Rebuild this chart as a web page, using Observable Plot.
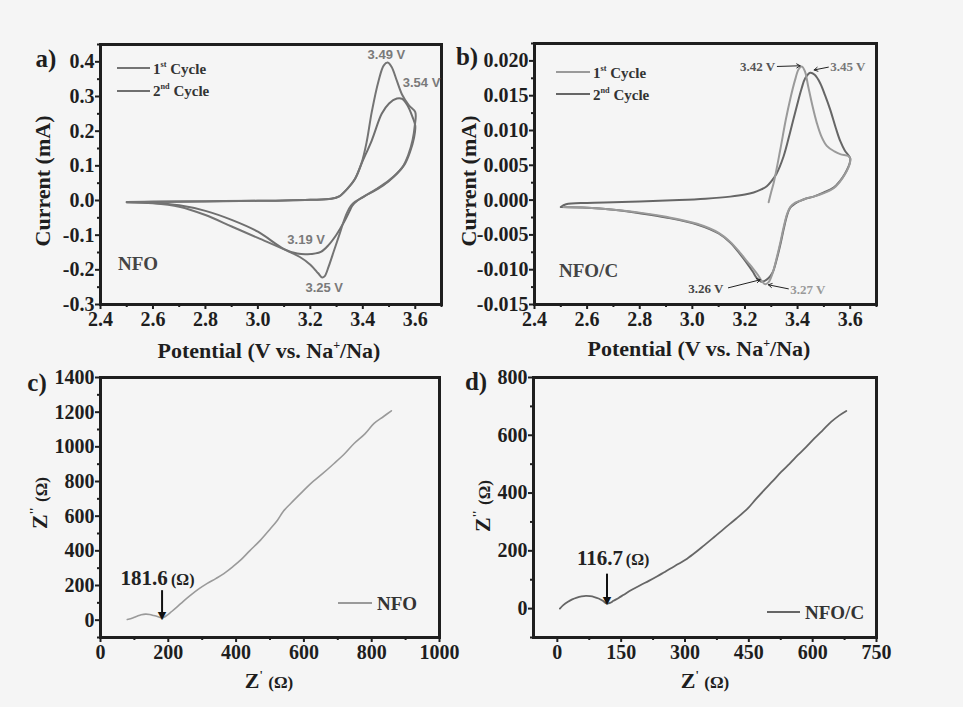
<!DOCTYPE html>
<html>
<head>
<meta charset="utf-8">
<script src="https://cdn.jsdelivr.net/npm/d3@7"></script>
<script src="https://cdn.jsdelivr.net/npm/@observablehq/plot@0.6"></script>
<style>
  body { margin: 0; background: #f5f5f5; }
  #fig { position: relative; width: 963px; height: 707px; background: #f5f5f5; overflow: hidden;
         font-family: "Liberation Serif", "Times New Roman", serif; font-weight: bold; color: #1e1e1e; }
  .abs { position: absolute; white-space: nowrap; line-height: 1; }
  .panel { position: absolute; }
  .leg { position: absolute; height: 0; }
  sup { font-size: 0.55em; vertical-align: 0.75em; line-height: 0; }
</style>
</head>
<body>
<div id="fig"></div>
<script>
// ---------------- DATA ----------------
// (a) NFO cyclic voltammetry, potential (V) vs current (mA)
const nfoCycle1 = [
  [2.5,-0.004],[2.6,-0.003],[2.8,-0.002],[3.0,-0.001],[3.1,0.0],[3.2,0.002],[3.28,0.005],
  [3.31,0.012],[3.34,0.033],[3.37,0.062],[3.396,0.11],[3.415,0.17],[3.434,0.255],[3.46,0.345],
  [3.48,0.39],[3.495,0.398],[3.51,0.385],[3.53,0.345],[3.55,0.305],[3.575,0.275],[3.6,0.255],
  [3.598,0.215],[3.59,0.175],[3.575,0.135],[3.55,0.095],[3.5,0.058],[3.45,0.032],[3.4,0.01],
  [3.37,-0.004],[3.355,-0.015],[3.34,-0.035],[3.325,-0.065],[3.31,-0.1],[3.29,-0.145],
  [3.27,-0.19],[3.255,-0.218],[3.245,-0.222],[3.23,-0.21],[3.2,-0.185],[3.16,-0.163],
  [3.12,-0.148],[3.0,-0.108],[2.9,-0.075],[2.8,-0.042],[2.7,-0.018],[2.6,-0.008],[2.5,-0.005]
];
const nfoCycle2 = [
  [2.5,-0.005],[2.6,-0.004],[2.8,-0.003],[3.0,-0.001],[3.1,0.0],[3.2,0.002],[3.28,0.005],
  [3.31,0.012],[3.34,0.033],[3.37,0.062],[3.396,0.108],[3.434,0.173],[3.472,0.25],[3.5,0.28],
  [3.53,0.294],[3.55,0.293],[3.57,0.275],[3.59,0.24],[3.6,0.215],
  [3.595,0.18],[3.58,0.14],[3.56,0.105],[3.52,0.07],[3.475,0.042],[3.42,0.018],[3.38,0.0],
  [3.36,-0.015],[3.35,-0.03],[3.33,-0.06],[3.3,-0.098],[3.27,-0.128],[3.24,-0.148],
  [3.19,-0.155],[3.15,-0.153],[3.1,-0.14],[3.0,-0.09],[2.9,-0.056],[2.8,-0.03],
  [2.7,-0.014],[2.6,-0.007],[2.5,-0.005]
];
const nfoPeakLabels = [
  {v: 3.49, i: 0.419, text: "3.49 V"},
  {v: 3.624, i: 0.338, text: "3.54 V"},
  {v: 3.184, i: -0.113, text: "3.19 V"},
  {v: 3.253, i: -0.251, text: "3.25 V"}
];

// (b) NFO/C cyclic voltammetry
const nfocCycle1 = [
  [3.29,-0.0003],[3.30,0.0012],[3.31,0.0026],[3.334,0.0072],[3.355,0.0115],[3.372,0.0145],
  [3.39,0.0172],[3.404,0.0188],[3.416,0.0192],[3.428,0.0185],[3.44,0.0164],[3.455,0.0138],
  [3.473,0.0111],[3.49,0.0092],[3.511,0.0078],[3.54,0.007],[3.562,0.0066],[3.594,0.0063],[3.6,0.006],
  [3.598,0.0052],[3.58,0.0037],[3.56,0.0026],[3.537,0.0017],[3.5,0.001],[3.461,0.0005],
  [3.43,0.0002],[3.41,-0.0001],[3.39,-0.0004],[3.372,-0.001],[3.36,-0.002],[3.347,-0.0039],
  [3.335,-0.006],[3.32,-0.0084],[3.305,-0.0105],[3.29,-0.0118],[3.278,-0.0121],[3.265,-0.0117],
  [3.25,-0.0108],[3.23,-0.0098],[3.208,-0.0088],[3.18,-0.0075],[3.144,-0.006],[3.1,-0.0047],
  [3.018,-0.0034],[2.9,-0.0024],[2.8,-0.0018],[2.7,-0.0014],[2.6,-0.0011],[2.51,-0.001]
];
const nfocCycle2 = [
  [2.5,-0.001],[2.52,-0.0006],[2.6,-0.0004],[2.7,-0.0003],[2.8,-0.0002],[2.95,0.0],[3.05,0.0002],
  [3.144,0.0005],[3.2,0.0008],[3.233,0.0011],[3.26,0.0015],[3.283,0.002],[3.3,0.0027],[3.32,0.0038],
  [3.347,0.0063],[3.372,0.0098],[3.397,0.0135],[3.415,0.016],[3.429,0.0175],[3.448,0.0183],
  [3.465,0.018],[3.486,0.0168],[3.505,0.015],[3.524,0.013],[3.545,0.0104],[3.562,0.0085],
  [3.58,0.0071],[3.594,0.0064],[3.6,0.006],
  [3.598,0.0053],[3.58,0.0038],[3.56,0.0027],[3.537,0.0018],[3.5,0.0011],[3.461,0.0005],
  [3.43,0.0002],[3.41,-0.0001],[3.39,-0.0005],[3.372,-0.0011],[3.36,-0.0022],[3.347,-0.0042],
  [3.335,-0.0063],[3.32,-0.0086],[3.305,-0.0104],[3.29,-0.0112],[3.275,-0.0116],[3.26,-0.0117],
  [3.245,-0.0112],[3.23,-0.0103],[3.208,-0.0091],[3.18,-0.0077],[3.144,-0.0061],[3.1,-0.0048],
  [3.018,-0.0035],[2.9,-0.0025],[2.8,-0.0019],[2.7,-0.0014],[2.6,-0.0011],[2.5,-0.001]
];
const nfocLabelsLeft = [
  {v: 3.315, i: 0.0191, text: "3.42 V", color: "#555"},
  {v: 3.118, i: -0.01275, text: "3.26 V", color: "#444"}
];
const nfocLabelsRight = [
  {v: 3.524, i: 0.0191, text: "3.45 V", color: "#777"},
  {v: 3.372, i: -0.0129, text: "3.27 V", color: "#999"}
];
const nfocPeakArrows = [
  {v1: 3.323, i1: 0.0192, v2: 3.41, i2: 0.0193},
  {v1: 3.517, i1: 0.0191, v2: 3.463, i2: 0.0187},
  {v1: 3.137, i1: -0.0126, v2: 3.258, i2: -0.01145},
  {v1: 3.365, i1: -0.01275, v2: 3.289, i2: -0.01217}
];

// (c) NFO impedance (Nyquist): Z' and Z'' in ohm
const nfoZre = [79,95,108,120,133,145,157,170,182,190,197,210,226,245,266,290,315,340,364,390,
  413,440,472,500,522,540,561,590,620,655,689,720,748,780,807,835,858];
const nfoZim = [4,13,23,31,35,33,27,20,13,20,29,50,77,110,144,180,212,240,269,308,
  346,400,462,525,577,630,673,730,788,845,904,960,1019,1075,1135,1175,1208];
const nfoRct = {x: 181.6, yTop: 173, yTip: 29, labelX: 59, unitX: 208, labelY: 240, text: "181.6"};

// (d) NFO/C impedance
const nfocZre = [6,14,24,35,46,57,67,77,87,97,107,116,124,132,144,156,175,195,215,235,250,266,
  285,305,325,345,368,392,420,447,466,486,506,526,546,565,585,604,624,644,662,679];
const nfocZim = [0,12,23,32,38,42,44,43,40,35,27,18,20,27,37,48,65,81,96,112,125,139,
  155,173,195,219,247,277,311,346,378,410,441,473,502,531,560,589,618,647,668,684];
const nfocRct = {x: 116.7, yTop: 121, yTip: 31, labelX: 46, unitX: 161, labelY: 173, text: "116.7"};

// tick values
const cvXTicks = [2.4, 2.6, 2.8, 3.0, 3.2, 3.4, 3.6];
const cvXMinor = [2.5, 2.7, 2.9, 3.1, 3.3, 3.5, 3.7];
const aYTicks = [-0.3, -0.2, -0.1, 0.0, 0.1, 0.2, 0.3, 0.4];
const aYMinor = [-0.25, -0.15, -0.05, 0.05, 0.15, 0.25, 0.35, 0.45];
const bYTicks = [-0.015, -0.010, -0.005, 0.000, 0.005, 0.010, 0.015, 0.020];
const bYMinor = [-0.0125, -0.0075, -0.0025, 0.0025, 0.0075, 0.0125, 0.0175, 0.0225];
const cXTicks = [0, 200, 400, 600, 800, 1000];
const cXMinor = [100, 300, 500, 700, 900];
const cYTicks = [0, 200, 400, 600, 800, 1000, 1200, 1400];
const cYMinor = [-100, 100, 300, 500, 700, 900, 1100, 1300];
const dXTicks = [0, 150, 300, 450, 600, 750];
const dXMinor = [75, 225, 375, 525, 675];
const dYTicks = [0, 200, 400, 600, 800];
const dYMinor = [-100, 100, 300, 500, 700];

// ---------------- DRAWING ----------------
const fig = document.getElementById("fig");
const INK = "#1e1e1e";
const SERIF = '"Liberation Serif", "Times New Roman", serif';
const SANS = '"Liberation Sans", Arial, sans-serif';

function axes(xt, xm, yt, ym, xf, yf) {
  const common = {tickSize: 5, strokeWidth: 2, fontSize: 20, fontWeight: "bold", fontFamily: SERIF};
  return [
    Plot.axisX({ticks: xt, tickFormat: xf, tickPadding: 2, ...common}),
    Plot.axisX({ticks: xm, tickFormat: () => "", tickSize: 3, strokeWidth: 2}),
    Plot.axisY({ticks: yt, tickFormat: yf, tickPadding: 1, ...common}),
    Plot.axisY({ticks: ym, tickFormat: () => "", tickSize: 3, strokeWidth: 2}),
    Plot.frame({stroke: INK, strokeWidth: 3})
  ];
}

function place(el, left, top) {
  const w = document.createElement("div");
  w.className = "panel";
  w.style.left = left + "px";
  w.style.top = top + "px";
  w.appendChild(el);
  fig.appendChild(w);
}

const baseStyle = {background: "transparent", color: INK, fontFamily: SERIF, fontWeight: "bold", fontSize: "19px", overflow: "visible"};

// Panel a
const plotA = Plot.plot({
  width: 480, height: 360,
  marginLeft: 100, marginRight: 39, marginTop: 44, marginBottom: 56,
  x: {domain: [2.4, 3.7], label: null},
  y: {domain: [-0.3, 0.45], label: null},
  style: baseStyle,
  marks: [
    ...axes(cvXTicks, cvXMinor, aYTicks, aYMinor, d => d.toFixed(1), d => d.toFixed(1)),
    Plot.line(nfoCycle2, {x: d => d[0], y: d => d[1], stroke: "#6f6f6f", strokeWidth: 2, curve: "catmull-rom"}),
    Plot.line(nfoCycle1, {x: d => d[0], y: d => d[1], stroke: "#747474", strokeWidth: 2, curve: "catmull-rom"}),
    Plot.text(nfoPeakLabels, {x: "v", y: "i", text: "text", fill: "#7a7a7a", fontSize: 13, fontWeight: "bold",
      fontFamily: SANS})
  ]
});
place(plotA, 0, 0);

// Panel b
const plotB = Plot.plot({
  width: 483, height: 360,
  marginLeft: 54, marginRight: 87, marginTop: 43, marginBottom: 56,
  x: {domain: [2.4, 3.7], label: null},
  y: {domain: [-0.015, 0.0225], label: null},
  style: baseStyle,
  marks: [
    ...axes(cvXTicks, cvXMinor, bYTicks, bYMinor, d => d.toFixed(1), d => d.toFixed(3)),
    Plot.line(nfocCycle2, {x: d => d[0], y: d => d[1], stroke: "#666", strokeWidth: 2, curve: "catmull-rom"}),
    Plot.line(nfocCycle1, {x: d => d[0], y: d => d[1], stroke: "#9a9a9a", strokeWidth: 2, curve: "catmull-rom"}),
    Plot.arrow(nfocPeakArrows, {x1: "v1", y1: "i1", x2: "v2", y2: "i2", stroke: "#222", strokeWidth: 1, headLength: 6}),
    Plot.text(nfocLabelsLeft, {x: "v", y: "i", text: "text", fill: "color", textAnchor: "end", fontSize: 13, fontWeight: "bold", fontFamily: SERIF}),
    Plot.text(nfocLabelsRight, {x: "v", y: "i", text: "text", fill: "color", textAnchor: "start", fontSize: 13, fontWeight: "bold", fontFamily: SERIF})
  ]
});
place(plotB, 480, 0);

function eisPlot(zre, zim, rct, opts) {
  const pts = zre.map((x, k) => ({x, y: zim[k]}));
  return Plot.plot({
    width: opts.width, height: 347,
    marginLeft: opts.ml, marginRight: opts.mr, marginTop: 17, marginBottom: 70,
    x: {domain: opts.xd, label: null},
    y: {domain: opts.yd, label: null},
    style: baseStyle,
    marks: [
      ...axes(opts.xt, opts.xm, opts.yt, opts.ym, d => String(d), d => String(d)),
      Plot.line(pts, {x: "x", y: "y", stroke: opts.color, strokeWidth: opts.sw, curve: "catmull-rom"}),
      Plot.link([rct], {x1: "x", x2: "x", y1: "yTop", y2: "yTip", stroke: "#111", strokeWidth: 2}),
      Plot.text([rct], {x: "x", y: "yTip", text: () => "\u25BC", fill: "#111", fontSize: 11, lineAnchor: "bottom", dy: 4,
        fontFamily: "DejaVu Sans", fontWeight: "normal"}),
      Plot.text([rct], {x: "labelX", y: "labelY", text: "text", textAnchor: "start", fill: "#222", fontSize: 21, fontWeight: "bold", fontFamily: SERIF}),
      Plot.text([rct], {x: "unitX", y: "labelY", text: () => "(\u03A9)", textAnchor: "start", fill: "#222", fontSize: 16, fontWeight: "bold", fontFamily: SERIF, dy: 1})
    ]
  });
}

const plotC = eisPlot(nfoZre, nfoZim, nfoRct, {width: 480, ml: 100, mr: 41, xd: [0, 1000], yd: [-100, 1400],
  xt: cXTicks, xm: cXMinor, yt: cYTicks, ym: cYMinor, color: "#9a9a9a", sw: 1.6});
place(plotC, 0, 360);

const plotD = eisPlot(nfocZre, nfocZim, nfocRct, {width: 483, ml: 53, mr: 87, xd: [-56, 750], yd: [-100, 800],
  xt: dXTicks, xm: dXMinor, yt: dYTicks, ym: dYMinor, color: "#666", sw: 1.8});
place(plotD, 480, 360);

// ---------------- TEXT OVERLAYS ----------------
function label(html, cx, cy, size, rot, extra) {
  const d = document.createElement("div");
  d.className = "abs";
  d.innerHTML = html;
  d.style.left = cx + "px";
  d.style.top = cy + "px";
  d.style.fontSize = size + "px";
  d.style.transform = "translate(-50%,-50%)" + (rot ? " rotate(" + rot + "deg)" : "");
  if (extra) Object.assign(d.style, extra);
  fig.appendChild(d);
  return d;
}
function leftLabel(html, left, cy, size, extra) {
  const d = document.createElement("div");
  d.className = "abs";
  d.innerHTML = html;
  d.style.left = left + "px";
  d.style.top = cy + "px";
  d.style.fontSize = size + "px";
  d.style.transform = "translate(0,-50%)";
  if (extra) Object.assign(d.style, extra);
  fig.appendChild(d);
}
function legLine(x1, x2, y, color, w) {
  const d = document.createElement("div");
  d.className = "leg";
  d.style.left = x1 + "px";
  d.style.top = (y - w / 2) + "px";
  d.style.width = (x2 - x1) + "px";
  d.style.height = w + "px";
  d.style.background = color;
  fig.appendChild(d);
}

// panel letters
label("a)", 46, 58, 25);
label("b)", 467, 56, 25);
label("c)", 37, 382, 25);
label("d)", 476, 381, 25);

// axis titles
label("Current (mA)", 43, 181, 22, -90);
label("Current (mA)", 469, 181, 22, -90);
label("Potential (V vs. Na<sup>+</sup>/Na)", 269, 351, 22);
label("Potential (V vs. Na<sup>+</sup>/Na)", 699, 349, 22);
label("Z<sup>''</sup> <span style='font-size:17px'>(\u03A9)</span>", 40, 503, 22, -90);
label("Z<sup>''</sup> <span style='font-size:17px'>(\u03A9)</span>", 483, 506, 22, -90);
label("Z<sup>'</sup> <span style='font-size:17px'>(\u03A9)</span>", 269, 681, 22);
label("Z<sup>'</sup> <span style='font-size:17px'>(\u03A9)</span>", 705, 681, 22);

// legends
legLine(117, 150, 68, "#747474", 2);
legLine(117, 150, 91, "#6f6f6f", 2);
leftLabel("1<sup>st</sup> Cycle", 153, 69, 15, {color: "#333"});
leftLabel("2<sup>nd</sup> Cycle", 153, 91, 15, {color: "#333"});
legLine(556, 590, 72, "#9a9a9a", 2);
legLine(556, 590, 94, "#666", 2);
leftLabel("1<sup>st</sup> Cycle", 593, 73, 15, {color: "#333"});
leftLabel("2<sup>nd</sup> Cycle", 593, 95, 15, {color: "#333"});
legLine(338, 372, 603, "#9a9a9a", 1.6);
leftLabel("NFO", 377, 603, 19, {color: "#333"});
legLine(767, 800, 612, "#666", 2);
leftLabel("NFO/C", 805, 612, 19, {color: "#333"});

// sample names
leftLabel("NFO", 118, 263, 19, {color: "#444"});
leftLabel("NFO/C", 559, 270, 19, {color: "#444"});
</script>
</body>
</html>
